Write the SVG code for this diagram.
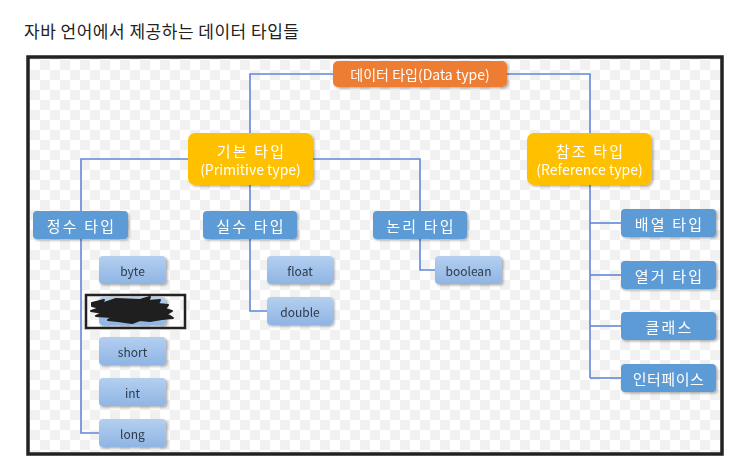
<svg xmlns="http://www.w3.org/2000/svg" width="746" height="474" viewBox="0 0 746 474">
<style>
.ko{font-family:"Noto Sans CJK KR","Noto Sans",sans-serif}
.title{font-size:17px;fill:#222;letter-spacing:0.5px}
.wt{font-size:14px;fill:#fff;text-anchor:middle;dominant-baseline:central}
.kw{font-size:15px;letter-spacing:2.2px}
.dk{font-size:12px;fill:#2d3a4a;text-anchor:middle;dominant-baseline:central}
.top{fill:#ED7D31}
.mid{fill:#FFC000}
.lvl{fill:#5B9BD5}
.leaf{fill:url(#lg)}
.conn{fill:none;stroke:#6088d6;stroke-width:1.6}
</style>
<defs>
<pattern id="chk" width="20" height="20" patternUnits="userSpaceOnUse">
<rect width="20" height="20" fill="#ffffff"/>
<rect width="10" height="10" fill="#f1f1f1"/>
<rect x="10" y="10" width="10" height="10" fill="#f1f1f1"/>
</pattern>
<linearGradient id="lg" x1="0" y1="0" x2="0" y2="1">
<stop offset="0" stop-color="#b4cff0"/>
<stop offset="1" stop-color="#8fb5e3"/>
</linearGradient>
<filter id="sh" x="-10%" y="-20%" width="130%" height="150%">
<feDropShadow dx="1.5" dy="1.5" stdDeviation="1.2" flood-color="#000" flood-opacity="0.3"/>
</filter>
</defs>
<rect width="746" height="474" fill="#fff"/>
<text class="ko title" x="24" y="38">자바 언어에서 제공하는 데이터 타입들</text>
<rect x="28" y="57" width="694" height="397" fill="url(#chk)" stroke="#222" stroke-width="3.5"/>
<g id="connectors">
<polyline class="conn" points="333,74 250,74 250,133"/>
<polyline class="conn" points="507,74 590,74 590,133"/>
<polyline class="conn" points="188,159 81,159 81,211"/>
<polyline class="conn" points="313,159 420,159 420,211"/>
<line class="conn" x1="250" y1="185" x2="250" y2="211"/>
<polyline class="conn" points="81,239 81,433 99,433"/>
<polyline class="conn" points="250,239 250,311 267,311"/>
<polyline class="conn" points="420,239 420,270 435,270"/>
<line class="conn" x1="590" y1="185" x2="590" y2="378"/>
<line class="conn" x1="590" y1="223" x2="621" y2="223"/>
<line class="conn" x1="590" y1="275" x2="621" y2="275"/>
<line class="conn" x1="590" y1="326" x2="621" y2="326"/>
<line class="conn" x1="590" y1="378" x2="621" y2="378"/>
</g>
<g id="n-data" filter="url(#sh)"><rect class="top" x="333" y="61" width="174" height="26" rx="5"/><text class="ko wt" x="420" y="74">데이터 타입(Data type)</text></g>
<g id="n-prim" filter="url(#sh)"><rect class="mid" x="188" y="133" width="125" height="52" rx="7"/><text class="ko wt kw" x="251.5" y="150">기본 타입</text><text class="ko wt" x="250.5" y="169">(Primitive type)</text></g>
<g id="n-ref" filter="url(#sh)"><rect class="mid" x="527" y="133" width="125" height="52" rx="7"/><text class="ko wt kw" x="590.5" y="150">참조 타입</text><text class="ko wt" x="589.5" y="169">(Reference type)</text></g>
<g id="n-int" filter="url(#sh)"><rect class="lvl" x="33" y="211" width="95" height="28" rx="4"/><text class="ko wt kw" x="81.5" y="225">정수 타입</text></g>
<g id="n-real" filter="url(#sh)"><rect class="lvl" x="203" y="211" width="94" height="28" rx="4"/><text class="ko wt kw" x="251" y="225">실수 타입</text></g>
<g id="n-bool" filter="url(#sh)"><rect class="lvl" x="373" y="211" width="94" height="28" rx="4"/><text class="ko wt kw" x="421" y="225">논리 타입</text></g>
<g id="n-arr" filter="url(#sh)"><rect class="lvl" x="621" y="209" width="95" height="28" rx="4"/><text class="ko wt kw" x="669.5" y="223">배열 타입</text></g>
<g id="n-enum" filter="url(#sh)"><rect class="lvl" x="621" y="261" width="95" height="28" rx="4"/><text class="ko wt kw" x="669.5" y="275">열거 타입</text></g>
<g id="n-class" filter="url(#sh)"><rect class="lvl" x="621" y="312" width="95" height="28" rx="4"/><text class="ko wt kw" x="669.5" y="326">클래스</text></g>
<g id="n-iface" filter="url(#sh)"><rect class="lvl" x="621" y="364" width="95" height="28" rx="4"/><text class="ko wt" x="668.5" y="378" style="font-size:15px;letter-spacing:0.5px">인터페이스</text></g>
<g id="n-byte" filter="url(#sh)"><rect class="leaf" x="99" y="256" width="67" height="28" rx="4"/><text class="ko dk" x="132.5" y="270">byte</text></g>
<g id="n-redacted"><rect class="leaf" x="99" y="297" width="67" height="28" rx="4" filter="url(#sh)"/>
<path d="M92,303 L104,300 L101,304 L116,299 L140,300 L150,297 L148,301 L160,300 L158,304 L168,305 L165,309 L172,311 L167,314 L173,318 L162,319 L150,321 L140,320 L132,323 L118,321 L108,320 L112,317 L96,316 L103,313 L91,311 L100,308 L92,306 Z" fill="#1f1f1f" stroke="#1f1f1f" stroke-width="2" stroke-linejoin="round"/>
<rect x="86" y="295" width="99" height="33" fill="none" stroke="#222" stroke-width="2.5"/></g>
<g id="n-short" filter="url(#sh)"><rect class="leaf" x="99" y="337" width="67" height="28" rx="4"/><text class="ko dk" x="132.5" y="351">short</text></g>
<g id="n-intv" filter="url(#sh)"><rect class="leaf" x="99" y="378" width="67" height="28" rx="4"/><text class="ko dk" x="132.5" y="392">int</text></g>
<g id="n-long" filter="url(#sh)"><rect class="leaf" x="99" y="419" width="67" height="28" rx="4"/><text class="ko dk" x="132.5" y="433">long</text></g>
<g id="n-float" filter="url(#sh)"><rect class="leaf" x="267" y="256" width="66" height="28" rx="4"/><text class="ko dk" x="300" y="270">float</text></g>
<g id="n-double" filter="url(#sh)"><rect class="leaf" x="267" y="297" width="66" height="28" rx="4"/><text class="ko dk" x="300" y="311">double</text></g>
<g id="n-boolean" filter="url(#sh)"><rect class="leaf" x="435" y="256" width="67" height="28" rx="4"/><text class="ko dk" x="468.5" y="270">boolean</text></g>
</svg>
